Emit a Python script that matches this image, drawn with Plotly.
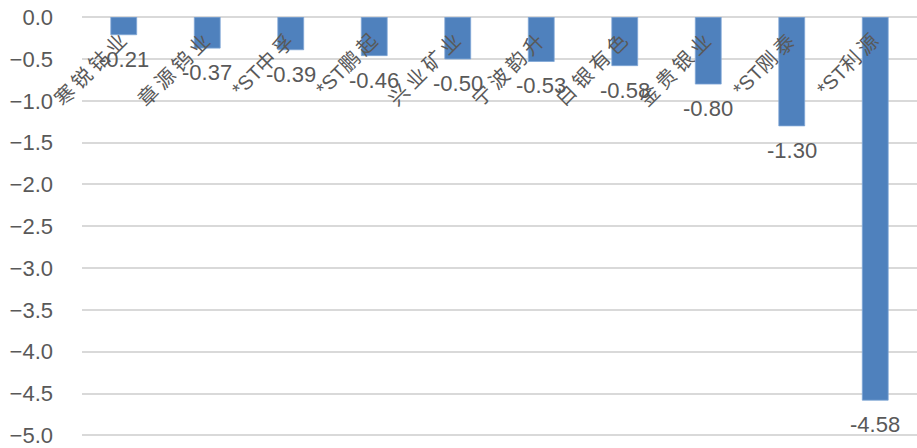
import plotly.graph_objects as go

categories = ["寒锐钴业", "章源钨业", "*ST中孚", "*ST鹏起", "兴业矿业",
              "宁波韵升", "白银有色", "金贵银业", "*ST刚泰", "*ST利源"]
values = [-0.21, -0.37, -0.39, -0.46, -0.50, -0.53, -0.58, -0.80, -1.30, -4.58]
y_ticks = [0.0, -0.5, -1.0, -1.5, -2.0, -2.5, -3.0, -3.5, -4.0, -4.5, -5.0]

FONT = "Liberation Sans, Arial, Noto Sans CJK SC, sans-serif"
GRAY = "#595959"


def spaced(label):
    # widen the pitch of CJK characters, as in the reference rendering
    out = ""
    for i, ch in enumerate(label):
        out += ch
        if i < len(label) - 1 and ord(ch) > 0x2E80:
            out += "\u2009"
    return out


fig = go.Figure()
fig.add_trace(go.Bar(
    x=categories, y=values,
    marker=dict(color="#4F81BD", line=dict(color="#7FA6D6", width=0.8)),
    hoverinfo="skip",
))

annotations = []
for c, v in zip(categories, values):
    annotations.append(dict(
        x=c, y=v, xref="x", yref="y", text=f"{v:.2f}", showarrow=False,
        xanchor="center", yanchor="top", yshift=-10,
        font=dict(family=FONT, size=22, color=GRAY),
    ))
    annotations.append(dict(
        x=c, y=0, xref="x", yref="y", text=spaced(c), showarrow=False,
        textangle=-45, xanchor="right", yanchor="top", xshift=10, yshift=-10,
        font=dict(family=FONT, size=20, color=GRAY),
    ))

fig.update_layout(
    width=917, height=448,
    margin=dict(l=82, r=0, t=17, b=9),
    paper_bgcolor="white", plot_bgcolor="white",
    bargap=0.69,
    showlegend=False,
    annotations=annotations,
    xaxis=dict(range=[-0.5, len(categories) - 0.5], autorange=False,
               showticklabels=False, showgrid=False, showline=False, ticks="",
               zeroline=False),
    yaxis=dict(range=[-5.02, 0.002], autorange=False, tickvals=y_ticks,
               tickformat=".1f", ticklabeloverflow="allow",
               showgrid=True, gridcolor="#D9D9D9", gridwidth=1.5,
               zeroline=True, zerolinecolor="#D9D9D9", zerolinewidth=1.5,
               showline=False, ticks="", ticklabelstandoff=28,
               tickfont=dict(family=FONT, size=22, color=GRAY)),
)

fig.write_html("out.html")
